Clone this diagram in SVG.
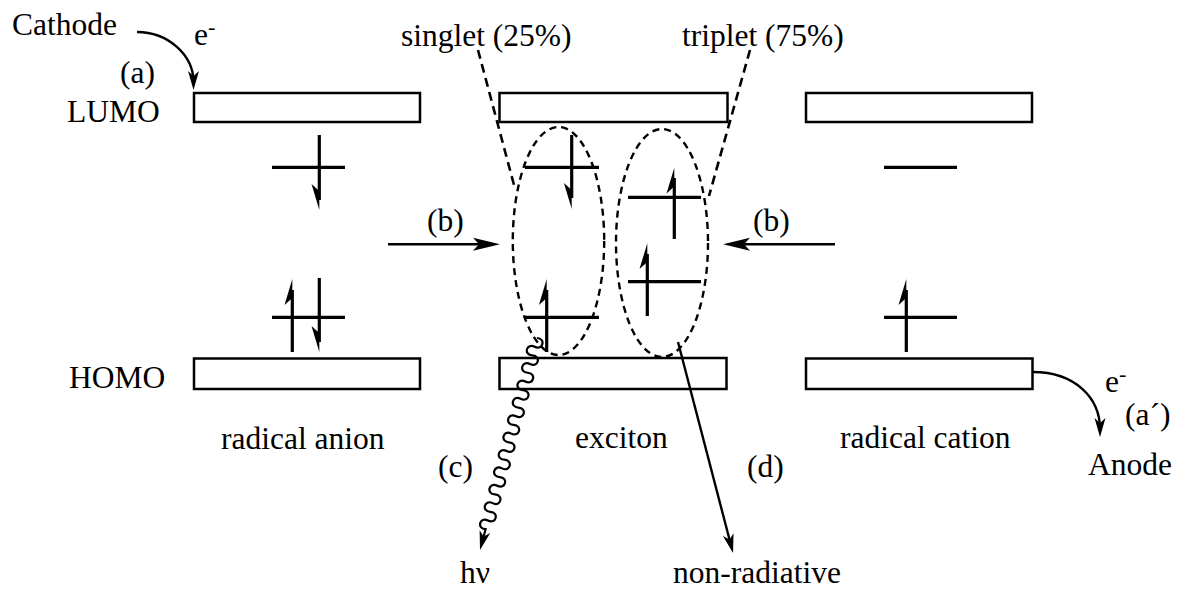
<svg xmlns="http://www.w3.org/2000/svg" width="1179" height="590" viewBox="0 0 1179 590">
<style>
text{font-family:"Liberation Serif","Times New Roman",serif;font-size:31.5px;fill:#000}
.box{fill:#fff;stroke:#000;stroke-width:2.5}
.lvl{stroke:#000;stroke-width:3.2;fill:none}
.spin{stroke:#000;stroke-width:3.2;fill:none}
.head{fill:#000;stroke:none}
.dash{stroke:#000;stroke-width:2.6;fill:none;stroke-dasharray:9 5.5}
.ell{stroke:#000;stroke-width:2.4;fill:none;stroke-dasharray:7 5}
.conn{stroke:#000;stroke-width:2.4;fill:none}
.wave{stroke:#000;stroke-width:2.2;fill:none}
.sup{font-size:22px}
</style>
<defs>
<marker id="ah" markerUnits="userSpaceOnUse" markerWidth="24" markerHeight="16" viewBox="-12 -8 24 16" refX="0" refY="0" orient="auto"><path d="M8,0 L-11,-5.5 L-6,0 L-11,5.5 Z" fill="#000"/></marker>
<marker id="ahb" markerUnits="userSpaceOnUse" markerWidth="32" markerHeight="16" viewBox="-18 -8 32 16" refX="0" refY="0" orient="auto"><path d="M10,0 L-17,-6.5 L-11,0 L-17,6.5 Z" fill="#000"/></marker>
</defs>

<g id="labels-left">
<text x="12" y="35">Cathode</text>
<text x="194" y="45">e<tspan class="sup" dy="-11">-</tspan></text>
<text x="120" y="83">(a)</text>
<text x="67" y="121.5">LUMO</text>
<text x="69" y="388">HOMO</text>
</g>

<g id="radical-anion">
<rect class="box" x="194" y="93" width="226" height="29"/>
<rect class="box" x="194" y="358.5" width="226" height="30.5"/>
<line class="lvl" x1="272" y1="167.3" x2="345" y2="167.3"/>
<line class="lvl" x1="272" y1="317.3" x2="345" y2="317.3"/>
<line class="spin" x1="319.3" y1="135" x2="319.3" y2="200"/>
<polygon class="head" points="319.3,210 311.5,184 319.3,191"/>
<line class="spin" x1="292.3" y1="352" x2="292.3" y2="290"/>
<polygon class="head" points="292.3,279 284.5,305 292.3,298"/>
<line class="spin" x1="319.3" y1="278" x2="319.3" y2="342"/>
<polygon class="head" points="319.3,352 311.5,326 319.3,333"/>
<text x="221" y="449">radical anion</text>
</g>

<g id="exciton">
<rect class="box" x="499.5" y="93" width="228" height="29"/>
<rect class="box" x="499.5" y="358" width="227" height="31"/>
<line class="lvl" x1="525" y1="167.3" x2="599" y2="167.3"/>
<line class="lvl" x1="525" y1="317.3" x2="599" y2="317.3"/>
<line class="spin" x1="571.7" y1="135" x2="571.7" y2="198"/>
<polygon class="head" points="571.7,209 563.9,183 571.7,190"/>
<line class="spin" x1="546.7" y1="352" x2="546.7" y2="290"/>
<polygon class="head" points="546.7,279 538.9,305 546.7,298"/>
<line class="lvl" x1="628" y1="197.3" x2="701" y2="197.3"/>
<line class="lvl" x1="628" y1="281.7" x2="701" y2="281.7"/>
<line class="spin" x1="674.3" y1="239" x2="674.3" y2="178"/>
<polygon class="head" points="674.3,167.7 666.5,193.5 674.3,186.5"/>
<line class="spin" x1="647.3" y1="316" x2="647.3" y2="254"/>
<polygon class="head" points="647.3,243.3 639.5,269 647.3,262"/>
<ellipse class="ell" cx="558.5" cy="241" rx="45.7" ry="114"/>
<ellipse class="ell" cx="662" cy="243" rx="46" ry="114"/>
<text x="575" y="448">exciton</text>
</g>

<g id="radical-cation">
<rect class="box" x="806" y="93" width="226" height="29"/>
<rect class="box" x="806" y="358.5" width="226.5" height="30.5"/>
<line class="lvl" x1="884" y1="167.3" x2="957" y2="167.3"/>
<line class="lvl" x1="884" y1="317.3" x2="957" y2="317.3"/>
<line class="spin" x1="906.3" y1="352" x2="906.3" y2="290"/>
<polygon class="head" points="906.3,279 898.5,305 906.3,298"/>
<text x="840" y="448">radical cation</text>
</g>

<g id="spin-labels">
<text x="401" y="46">singlet (25%)</text>
<text x="682" y="46">triplet (75%)</text>
</g>

<g id="labels-right">
<text x="1105" y="392">e<tspan class="sup" dy="-11">-</tspan></text>
<text x="1125" y="425">(a´)</text>
<text x="1088" y="475">Anode</text>
</g>

<g id="outputs">
<text x="438" y="477">(c)</text>
<text x="747" y="477">(d)</text>
<text x="460" y="583">hν</text>
<text x="673" y="583">non-radiative</text>
<text x="427" y="231">(b)</text>
<text x="753" y="231">(b)</text>
</g>

<g id="connectors">
<line class="dash" x1="478" y1="50" x2="514" y2="185"/>
<line class="dash" x1="750" y1="50" x2="709" y2="196"/>
<path class="conn" d="M137,32 C168,32 193.5,55 193.5,82" marker-end="url(#ah)"/>
<path class="conn" d="M1033,372 C1075,372 1100,398 1100,429" marker-end="url(#ah)"/>
<line class="conn" x1="388" y1="244.3" x2="490" y2="244.3" marker-end="url(#ahb)"/>
<line class="conn" x1="835" y1="244.3" x2="733" y2="244.3" marker-end="url(#ahb)"/>
<line class="conn" x1="678" y1="342" x2="731" y2="545.3" marker-end="url(#ah)"/>
<g transform="translate(537,338) rotate(105.05)">
<path class="wave" d="M0,0 c-2,-9 11,-9 9,0 s11,9 9,0 s11,-9 9,0 s11,9 9,0 s11,-9 9,0 s11,9 9,0 s11,-9 9,0 s11,9 9,0 s11,-9 9,0 s11,9 9,0 s11,-9 9,0 s11,9 9,0 s11,-9 9,0 s11,9 9,0 s11,-9 9,0 s11,9 9,0 s11,-9 9,0 s11,9 9,0 s11,-9 9,0 s11,9 9,0 s11,-9 9,0 s11,9 9,0 L211.5,0" marker-end="url(#ah)"/>
</g>
</g>
</svg>
